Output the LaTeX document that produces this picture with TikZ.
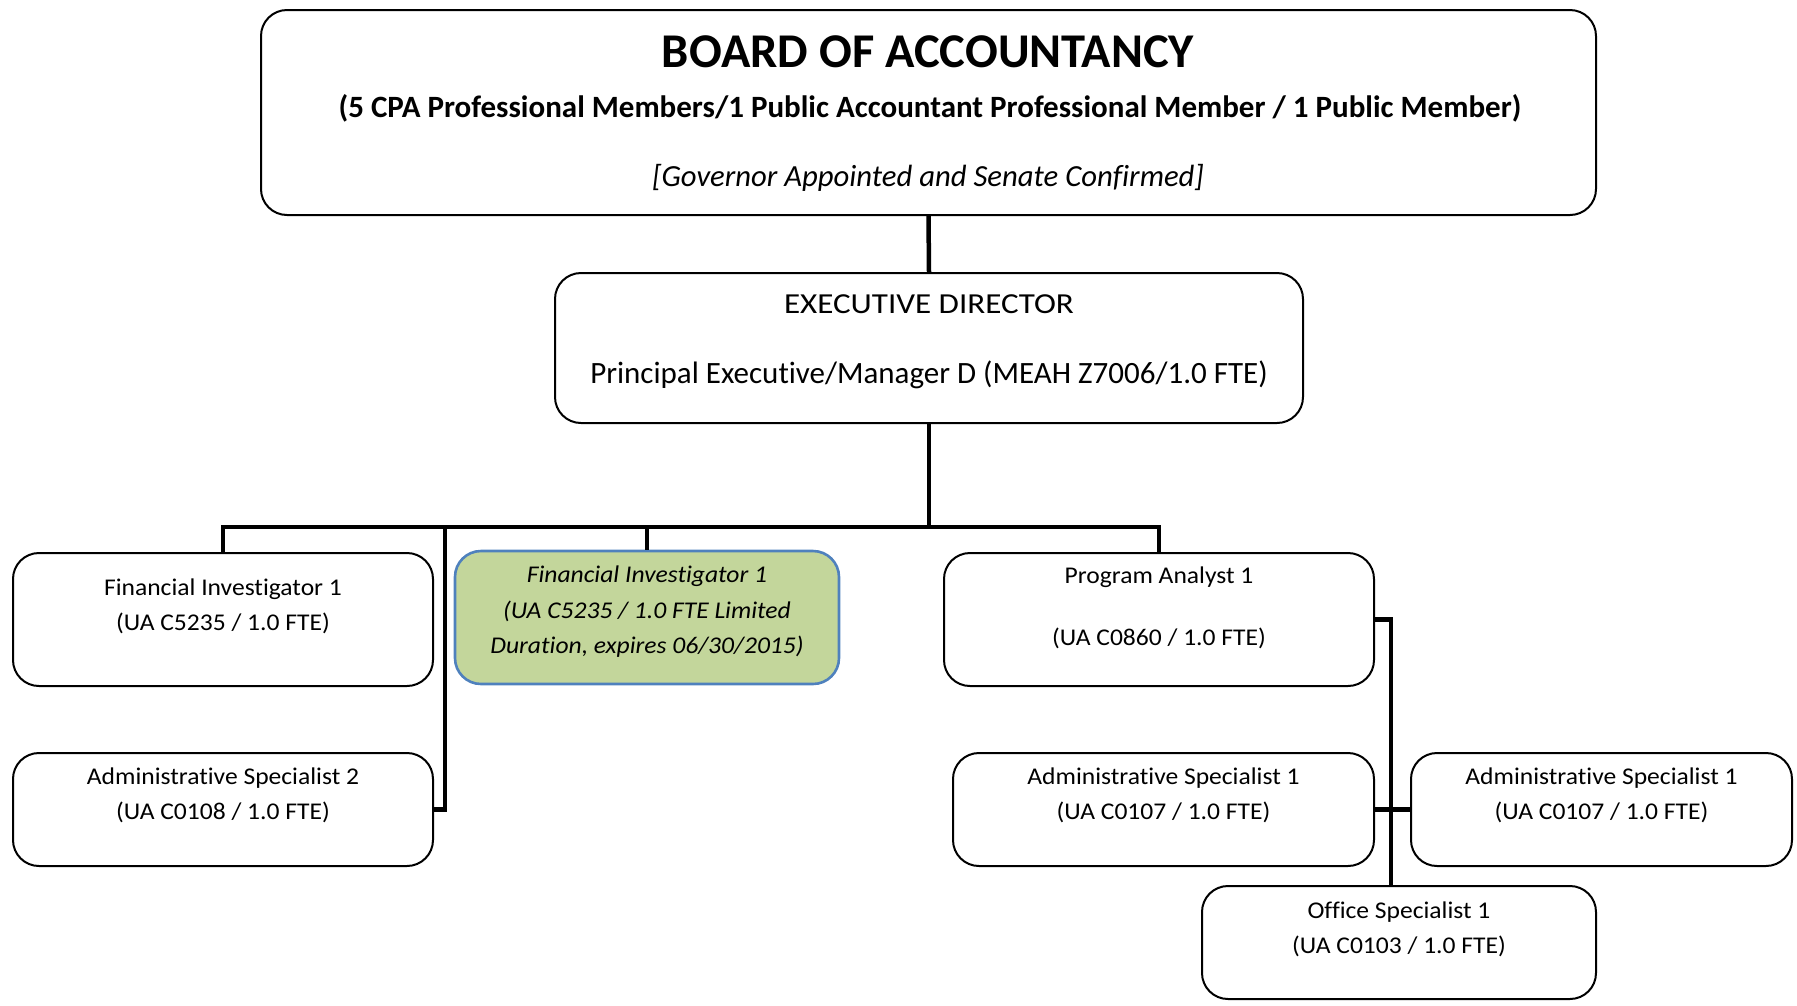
\documentclass[tikz,border=0pt]{standalone}
\usepackage{fontspec}
\setmainfont{Carlito}[Ligatures=NoCommon]
\newfontfamily\bodyfont{Carlito}[FakeStretch=1.065,Ligatures=NoCommon]
\newfontfamily\execfont{Carlito}[FakeStretch=1.14,Ligatures=NoCommon]
\definecolor{greenfill}{HTML}{C3D69B}
\definecolor{blueline}{HTML}{4F81BD}
\begin{document}
\begin{tikzpicture}[x=1pt,y=-1pt,
  box/.style={draw=black,line width=2pt,rounded corners=26pt,inner sep=0pt,fill=white},
  gbox/.style={draw=blueline,line width=2.6pt,rounded corners=26pt,inner sep=0pt,fill=greenfill},
  txt/.style={align=center,inner sep=0pt,font=\bodyfont\fontsize{24}{35}\selectfont},
  conn/.style={draw=black,line width=4.5pt,line cap=butt,line join=miter}]
\useasboundingbox (0,0) rectangle (1797,1005);
% boxes
\node[box,minimum width=1335pt,minimum height=205pt] (board) at (928.5,112.5) {};
\node[box,minimum width=748pt,minimum height=150pt] (exec) at (929,348) {};
\node[box,minimum width=420pt,minimum height=133pt] (fi1) at (223,619.5) {};
\node[box,minimum width=420pt,minimum height=113pt] (as2) at (223,809.5) {};
\node[gbox,minimum width=384pt,minimum height=133pt] (fig) at (647,617.5) {};
\node[box,minimum width=430pt,minimum height=133pt] (pa) at (1159,619.5) {};
\node[box,minimum width=421pt,minimum height=113pt] (as1a) at (1163.5,809.5) {};
\node[box,minimum width=381pt,minimum height=113pt] (as1b) at (1601.5,809.5) {};
\node[box,minimum width=394pt,minimum height=113pt] (os) at (1399,942.5) {};
% texts
\node[inner sep=0pt,font=\fontsize{48.5}{50}\selectfont\bfseries] (boardt1) at (928,52) {BOARD OF ACCOUNTANCY};
\node[inner sep=0pt,font=\fontsize{31}{34}\selectfont\bfseries] (boardt2) at (930,108) {(5 CPA Professional Members/1 Public Accountant Professional Member / 1 Public Member)};
\node[inner sep=0pt,font=\fontsize{30.7}{34}\selectfont\itshape] (boardt3) at (928,178) {[Governor Appointed and Senate Confirmed]};
\node[inner sep=0pt,font=\execfont\fontsize{29}{32}\selectfont] (exect1) at (929,304) {EXECUTIVE DIRECTOR};
\node[inner sep=0pt,font=\fontsize{31}{34}\selectfont] (exect2) at (929,375) {Principal Executive/Manager D (MEAH Z7006/1.0 FTE)};
\node[txt] (fi1t) at (223,606) {Financial Investigator 1\\(UA C5235 / 1.0 FTE)};
\node[txt] (as2t) at (223,795) {Administrative Specialist 2\\(UA C0108 / 1.0 FTE)};
\node[txt,font=\bodyfont\fontsize{24}{35.5}\selectfont\itshape] (figt) at (647,612) {Financial Investigator 1\\(UA C5235 / 1.0 FTE Limited\\Duration, expires 06/30/2015)};
\node[txt] (pat) at (1159,607.5) {Program Analyst 1\\[27pt](UA C0860 / 1.0 FTE)};
\node[txt] (as1at) at (1163.5,795) {Administrative Specialist 1\\(UA C0107 / 1.0 FTE)};
\node[txt] (as1bt) at (1601.5,795) {Administrative Specialist 1\\(UA C0107 / 1.0 FTE)};
\node[txt] (ost) at (1399,929) {Office Specialist 1\\(UA C0103 / 1.0 FTE)};
% connectors
\coordinate (busy) at (0,527);
\coordinate (as2drop) at (445,527);
\coordinate (rtrunk) at (1391,619.5);
\draw[conn,line width=4.5pt] (board.south) -- (exec.north);
\draw[conn] (exec.south) -- (exec.south |- busy);
\draw[conn] (fi1.north) -- (fi1.north |- busy) -| (pa.north);
\draw[conn] (fig.north) -- (fig.north |- busy);
\draw[conn] (as2.east) -| (as2drop);
\draw[conn] (pa.east) -- (rtrunk) -- (rtrunk |- os.north);
\draw[conn] (as1a.east) -- (as1b.west);
\end{tikzpicture}
\end{document}
